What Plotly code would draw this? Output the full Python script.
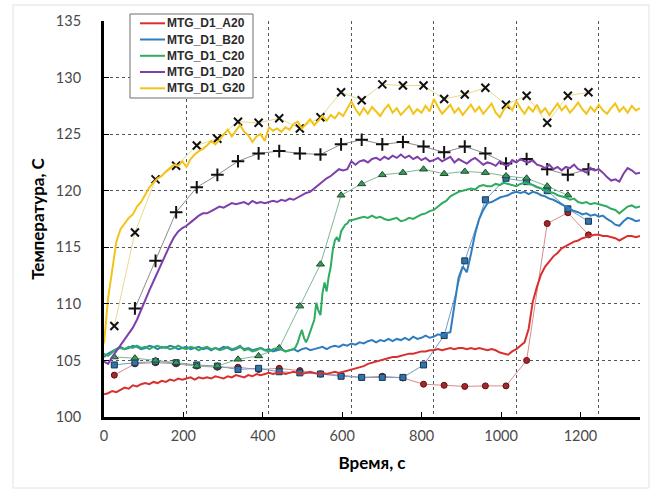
import plotly.graph_objects as go

# ---------------- data ----------------
t_cont = list(range(0, 1301, 10))

A20 = [102.0, 102.1, 102.3, 102.2, 102.4, 102.6, 102.5, 102.8, 102.7, 102.9,
       103.0, 102.9, 103.1, 103.0, 103.2, 103.1, 103.3, 103.2, 103.4, 103.3,
       103.4, 103.5, 103.3, 103.5, 103.4, 103.5, 103.4, 103.6, 103.5, 103.4,
       103.6, 103.5, 103.7, 103.6, 103.5, 103.7, 103.6, 103.8, 103.7, 103.8,
       103.9, 103.8, 103.9, 103.9, 103.8, 103.9, 104.0, 103.9, 103.8, 103.9,
       104.0, 103.9, 103.8, 103.9, 103.8, 103.9, 104.0, 103.9, 104.0, 104.1,
       104.2, 104.3, 104.4, 104.5, 104.7, 104.8, 104.9, 105.0, 105.1, 105.2,
       105.3, 105.3, 105.4, 105.5, 105.6, 105.6, 105.7, 105.8, 105.8, 105.9,
       105.9, 106.0, 105.9, 106.0, 106.1, 106.0, 106.1, 106.1, 106.0, 106.1,
       106.0, 106.1, 106.0, 105.9, 106.0, 105.9, 105.7, 105.6, 105.5, 105.8,
       106.0, 106.3, 106.6, 107.8, 110.2, 111.5, 112.6, 113.3, 113.8, 114.2,
       114.5, 114.9, 115.1, 115.3, 115.5, 115.6, 115.8, 115.9, 116.0, 116.1,
       116.1, 116.0, 116.0, 115.9, 115.8, 115.6, 115.8, 116.0, 116.0, 115.9,
       116.0]

B20 = [105.3, 105.6, 105.8, 106.0, 106.2, 106.0, 106.1, 106.3, 106.2, 106.0,
       106.1, 106.3, 106.2, 106.0, 106.2, 106.1, 106.3, 106.2, 106.0, 106.1,
       106.2, 106.0, 106.1, 106.2, 106.0, 106.1, 105.9, 106.1, 106.0, 106.2,
       106.1, 105.9, 106.0, 106.2, 106.0, 106.1, 105.9, 106.0, 106.1, 105.9,
       106.0, 105.8, 105.9, 106.0, 105.8, 105.9, 106.0, 105.8, 106.0, 106.1,
       105.9, 106.0, 106.1, 106.2, 106.0, 106.2, 106.3, 106.2, 106.4, 106.3,
       106.5, 106.4, 106.6, 106.5, 106.7, 106.8, 106.6, 106.8, 106.7, 106.9,
       106.7, 106.9, 106.8, 107.0, 106.8, 107.1, 106.9, 107.0, 107.2, 107.0,
       107.1, 107.3, 107.2, 107.4, 107.5, 109.8, 112.3, 113.3, 112.8, 114.4,
       116.2, 117.5, 118.3, 118.9, 119.0, 119.2, 119.4, 119.5, 119.6, 119.8,
       119.9, 119.8, 119.9, 119.7, 119.9, 119.8, 119.6, 119.5, 119.3, 119.2,
       119.0, 118.8, 118.6, 118.4, 118.2, 118.1, 117.9, 118.0, 117.8, 117.9,
       117.7, 117.8, 117.5, 117.3, 117.0, 116.9, 117.3, 117.6, 117.5, 117.3,
       117.4]

t_C20 = list(range(0, 460, 10)) + list(range(460, 600, 5)) + list(range(600, 1301, 10))
C20 = [105.6, 105.4, 105.7, 106.0, 106.1, 106.0, 106.2, 106.1, 106.3, 106.1,
       106.2, 106.0, 106.2, 106.3, 106.1, 106.2, 106.0, 106.1, 106.3, 106.1,
       106.0, 106.2, 106.1, 105.9, 106.1, 106.2, 106.0, 106.1, 105.9, 106.0,
       106.2, 106.0, 106.1, 106.3, 105.9, 106.0, 105.8, 105.9, 106.1, 105.9,
       105.8, 106.0, 106.1, 106.0, 105.8, 105.9,
       106.0, 106.2, 106.6, 107.2, 107.7, 107.0, 106.6, 107.0, 107.6, 108.0,
       108.6, 110.1, 109.4, 109.0, 111.0, 111.9, 111.1, 112.4, 113.3, 114.8,
       115.6, 115.9, 115.5, 116.4, 116.7, 117.0, 117.1, 117.4,
       117.4, 117.5, 117.6, 117.7, 117.6, 117.8, 117.6, 117.7, 117.5, 117.4,
       117.5, 117.6, 117.3, 117.4, 117.6, 117.5, 117.7, 117.9, 118.0, 118.2,
       118.3, 118.6, 118.9, 119.1, 119.5, 119.7, 119.9, 120.0, 120.1, 120.2,
       120.1, 120.4, 120.5, 120.4, 120.4, 120.6, 120.5, 120.7, 120.6, 120.5,
       120.4, 120.6, 120.7, 120.6, 120.5, 120.3, 120.2, 120.0, 119.9, 119.8,
       119.6, 119.5, 119.4, 119.2, 119.3, 119.0, 118.9, 119.0, 118.8, 118.9,
       118.8, 118.7, 118.6, 118.4, 118.3, 118.0, 118.3, 118.6, 118.7, 118.5,
       118.6]

D20 = [104.9, 104.7, 105.3, 105.8, 106.4, 106.9, 107.4, 107.9, 108.6, 109.5,
       110.3, 111.2, 112.0, 112.8, 113.7, 114.5, 115.2, 115.9, 116.4, 116.7,
       116.9, 117.2, 117.5, 117.8, 118.0, 118.0, 118.2, 118.4, 118.6, 118.5,
       118.7, 118.9, 118.8, 118.9, 119.0, 118.8, 119.1, 118.9, 119.0, 118.9,
       119.0, 119.1, 119.0, 119.2, 119.1, 119.3, 119.2, 119.4, 119.6, 119.8,
       119.9, 120.2, 120.5, 120.8, 121.1, 121.3, 121.6, 121.9, 121.8, 121.9,
       122.6, 122.3, 122.6, 122.7, 122.5, 122.8, 122.9, 122.7, 123.0, 122.8,
       123.1, 122.9, 123.2, 122.9, 123.1, 122.8, 123.0, 122.7, 122.9, 122.6,
       122.7, 122.9, 122.6, 122.8, 123.0, 122.5, 122.8, 122.6, 122.4, 122.7,
       122.9, 122.6, 122.3, 122.5, 122.4, 122.2, 122.6, 122.3, 122.2, 122.7,
       122.5, 122.8, 122.6, 122.5, 122.7, 122.3, 122.2, 122.0, 122.3, 121.9,
       122.1, 121.8, 122.1, 122.0, 122.3, 121.9, 121.8, 121.6, 122.0, 121.8,
       121.9, 121.6, 121.2, 120.9, 121.0, 120.8, 121.5, 122.0, 121.8, 121.5,
       121.6]

G20 = [106.5, 110.5, 113.0, 115.5, 116.6, 117.1, 117.6, 117.9, 118.6, 119.0,
       119.6, 120.3, 120.7, 121.1, 121.3, 121.7, 122.0, 122.3, 122.2, 122.6,
       122.1, 122.8, 123.2, 123.5, 123.7, 124.0, 124.4, 124.1, 124.5, 125.0,
       125.4, 124.8, 125.3, 125.8, 125.2, 124.9, 124.3, 124.8, 125.0, 124.4,
       125.6, 125.3, 125.5, 125.2, 125.6, 125.4, 125.9, 126.1, 125.5, 125.9,
       126.3, 125.8, 126.2, 126.6, 126.2, 126.7, 126.4, 126.9, 126.6, 127.2,
       127.9, 127.2, 126.7, 127.3, 126.8, 127.4, 127.0, 126.6, 127.2, 127.6,
       126.9, 127.3, 126.7, 127.1, 127.5, 126.8, 127.2, 126.9, 127.5, 127.0,
       128.1, 127.4, 126.8, 127.2, 127.6, 126.9, 127.3, 126.7, 127.2, 127.6,
       127.0, 127.4, 126.8, 127.3, 127.7, 126.9, 126.5, 127.2, 127.6, 127.1,
       127.9, 127.3, 126.8, 127.4, 127.0, 127.6, 126.9, 127.3, 126.7, 127.2,
       127.7, 127.1, 127.5, 126.9, 127.3, 127.8, 127.2, 126.8, 127.4, 127.0,
       127.6, 127.1, 126.8, 127.3, 127.7, 127.0, 127.4, 126.9, 127.5, 127.1,
       127.3]

# marker series (every 50 s, starting at 25 s)
t_mk = list(range(25, 1200, 50))
A20_mk = [103.7, 104.7, 104.8, 104.7, 104.5, 104.4, 104.4, 104.2, 104.3, 104.1,
          103.8, 103.7, 103.5, 103.6, 103.45, 102.9, 102.8, 102.7, 102.75, 102.75,
          105.0, 117.1, 118.05, 116.1]
B20_mk = [104.6, 104.8, 104.9, 104.8, 104.6, 104.5, 104.2, 104.3, 104.0, 103.9,
          103.8, 103.6, 103.5, 103.5, 103.5, 104.6, 107.2, 113.8, 119.2, 121.1,
          120.8, 120.0, 118.4, 117.3]
C20_mk = [105.3, 105.2, 105.0, 104.8, 104.5, 104.5, 105.1, 105.4, 106.1, 109.8,
          113.5, 119.6, 120.6, 121.4, 121.6, 121.9, 121.5, 121.7, 121.6, 121.3,
          121.1, 120.4, 119.6]
D20_mk = [None, 109.6, 113.8, 118.1, 120.3, 121.4, 122.6, 123.3, 123.5, 123.3,
          123.2, 124.1, 124.5, 124.1, 124.3, 123.9, 123.4, 123.9, 123.3, 122.4,
          122.8, 121.9, 121.4, 121.9]
G20_mk = [108.05, 116.3, 121.0, 122.2, 124.0, 124.6, 126.1, 126.0, 126.4, 125.5,
          126.5, 128.7, 128.0, 129.4, 129.3, 129.3, 128.1, 128.5, 129.1, 127.6,
          128.4, 126.0, 128.4, 128.7]

names = ["MTG_D1_A20", "MTG_D1_B20", "MTG_D1_C20", "MTG_D1_D20", "MTG_D1_G20"]
x_ticks = [0, 200, 400, 600, 800, 1000, 1200]
y_ticks = [100, 105, 110, 115, 120, 125, 130, 135]

# ---------------- styles ----------------
cols = ["#d8302f", "#2f7cbf", "#2fab62", "#7d3fab", "#f2c41a"]
mk_line = ["#d88c8c", "#6d9cc6", "#7fb896", "#8c8c8c", "#e9d98e"]

fig = go.Figure()

# empty trace so the labelled primary x axis (0-1350) is drawn
fig.add_trace(go.Scatter(x=[], y=[], xaxis="x", yaxis="y", showlegend=False, hoverinfo="skip"))

mk_specs = [
    (A20_mk, dict(symbol="circle", size=6, color="#a8262a", line=dict(color="#5a1010", width=1))),
    (B20_mk, dict(symbol="square", size=6, color="#2f74aa", line=dict(color="#1a3552", width=1))),
    (C20_mk, dict(symbol="triangle-up", size=7, color="#3a9a5c", line=dict(color="#1c4a2c", width=1))),
    (D20_mk, dict(symbol="cross-thin", size=9, line=dict(color="#111111", width=2))),
    (G20_mk, dict(symbol="x-thin", size=8, line=dict(color="#111111", width=2))),
]
for i, (vals, mk) in enumerate(mk_specs):
    tt = t_mk[:len(vals)]
    fig.add_trace(go.Scatter(x=tt, y=vals, mode="lines+markers", xaxis="x2", yaxis="y",
                             line=dict(color=mk_line[i], width=1), marker=mk,
                             showlegend=False, connectgaps=True, hoverinfo="skip"))

series = [(t_cont, A20), (t_cont, B20), (t_C20, C20), (t_cont, D20), (t_cont, G20)]
for i, (tt, vals) in enumerate(series):
    fig.add_trace(go.Scatter(x=tt, y=vals, mode="lines", name=names[i], xaxis="x2", yaxis="y",
                             line=dict(color=cols[i], width=2), showlegend=False))

# ---------------- legend (drawn by hand to match the compact box) ----------------
def px_x(p):
    return (p - 104) / 536.0

def px_y(p):
    return (417 - p) / 396.0

shapes = [dict(type="rect", xref="paper", yref="paper",
               x0=px_x(130), x1=px_x(253), y0=px_y(98), y1=px_y(14),
               line=dict(color="#6e6e6e", width=1), fillcolor="white", layer="above")]
annotations = []
row_y = [23.3, 39.5, 55.8, 72.0, 88.3]
for i, nm in enumerate(names):
    shapes.append(dict(type="line", xref="paper", yref="paper",
                       x0=px_x(140), x1=px_x(165), y0=px_y(row_y[i]), y1=px_y(row_y[i]),
                       line=dict(color=cols[i], width=2), layer="above"))
    annotations.append(dict(text=nm, xref="paper", yref="paper", x=px_x(165), y=px_y(row_y[i]),
                            xanchor="left", yanchor="middle", showarrow=False,
                            font=dict(family="Arial, 'Liberation Sans', sans-serif", size=12,
                                      color="#2a2a2a", weight="bold")))

# faint outer chart border
shapes.append(dict(type="rect", xref="paper", yref="paper",
                   x0=px_x(13), x1=px_x(649), y0=px_y(488), y1=px_y(5),
                   line=dict(color="#e2e2e2", width=1), layer="below"))

grid = dict(showgrid=True, gridcolor="#555555", gridwidth=1, griddash="3px,3px")
font_fam = "Lato, 'Open Sans', Arial, sans-serif"

fig.update_layout(
    width=654, height=493,
    margin=dict(l=104, r=14, t=21, b=76),
    paper_bgcolor="white", plot_bgcolor="white",
    font=dict(family=font_fam, color="#4a4a4a", size=14.5),
    showlegend=False,
    shapes=shapes, annotations=annotations,
    xaxis=dict(range=[0, 1350], tickvals=x_ticks, showgrid=False, zeroline=False,
               showline=True, linecolor="#000000", linewidth=3, ticks="inside", ticklen=5,
               tickcolor="#000000", tickwidth=1, ticklabelstandoff=4,
               title=dict(text="Время, с", font=dict(size=17, color="#000000", weight="bold"), standoff=14)),
    xaxis2=dict(range=[0, 1300], dtick=200, tick0=0, overlaying="x", anchor="y", side="bottom",
                showticklabels=False, showline=False, zeroline=False, ticks="", **grid),
    yaxis=dict(range=[100, 135], tickvals=y_ticks, zeroline=False,
               showline=True, linecolor="#000000", linewidth=3, ticks="inside", ticklen=5,
               tickcolor="#000000", tickwidth=1, ticklabelstandoff=17,
               title=dict(text="Температура, С", font=dict(size=17, color="#000000", weight="bold"), standoff=7),
               **grid),
)

fig.write_html("out.html")
